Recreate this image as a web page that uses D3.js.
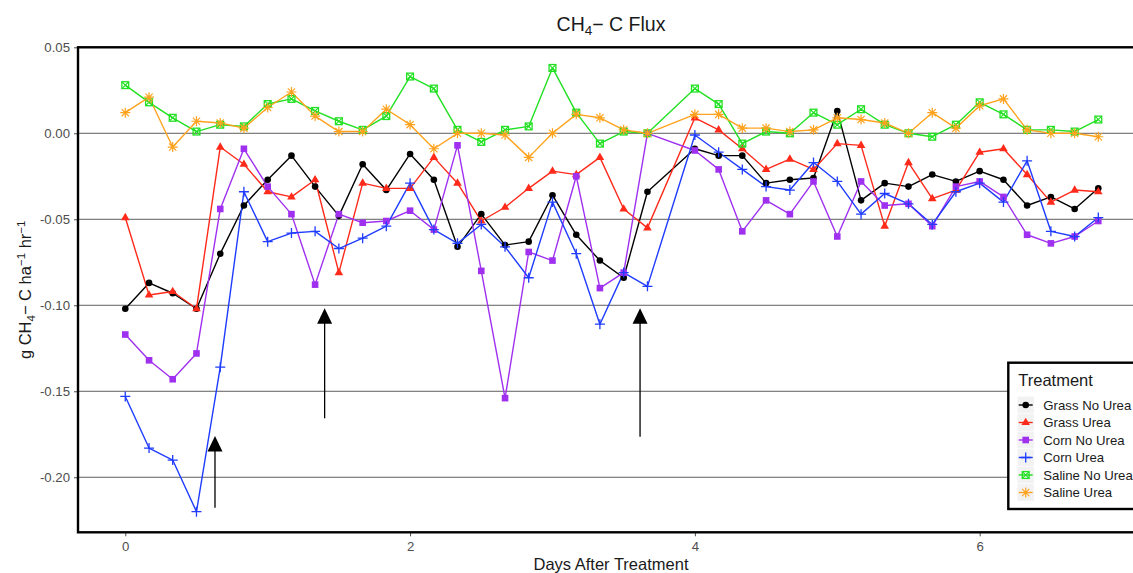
<!DOCTYPE html>
<html>
<head>
<meta charset="utf-8">
<script src="https://cdn.jsdelivr.net/npm/d3@7"></script>
<style>
  html, body { margin: 0; padding: 0; background: #fff; }
  svg { display: block; font-family: "Liberation Sans", Arial, sans-serif; }
</style>
</head>
<body>
<svg id="chart" width="1133" height="573"></svg>
<script>
// Sampling times (days after treatment)
const days = [0, 0.167, 0.333, 0.5, 0.667, 0.833, 1, 1.167, 1.333, 1.5, 1.667, 1.833,
  2, 2.167, 2.333, 2.5, 2.667, 2.833, 3, 3.167, 3.333, 3.5, 3.667,
  4, 4.167, 4.333, 4.5, 4.667, 4.833, 5, 5.167, 5.333, 5.5, 5.667, 5.833,
  6, 6.167, 6.333, 6.5, 6.667, 6.833];

// CH4-C flux, g CH4-C ha-1 hr-1
const grassNoUrea = [-0.102, -0.087, -0.093, -0.102, -0.070, -0.042, -0.027, -0.013, -0.031, -0.048, -0.018, -0.033,
  -0.012, -0.027, -0.066, -0.047, -0.065, -0.063, -0.036, -0.059, -0.074, -0.084, -0.034,
  -0.009, -0.013, -0.013, -0.029, -0.027, -0.026, 0.013, -0.039, -0.029, -0.031, -0.024, -0.028,
  -0.022, -0.027, -0.042, -0.037, -0.044, -0.032];
const grassUrea = [-0.049, -0.094, -0.092, -0.102, -0.008, -0.018, -0.034, -0.037, -0.027, -0.081, -0.029, -0.032,
  -0.032, -0.014, -0.029, -0.051, -0.043, -0.032, -0.022, -0.024, -0.014, -0.044, -0.055,
  0.009, 0.002, -0.009, -0.021, -0.015, -0.021, -0.006, -0.007, -0.054, -0.017, -0.038, -0.033,
  -0.011, -0.009, -0.024, -0.040, -0.033, -0.034];
const cornNoUrea = [-0.117, -0.132, -0.143, -0.128, -0.044, -0.009, -0.031, -0.047, -0.088, -0.047, -0.052, -0.051,
  -0.045, -0.056, -0.007, -0.080, -0.154, -0.069, -0.074, -0.025, -0.090, -0.081, 0.000,
  -0.010, -0.021, -0.057, -0.039, -0.047, -0.028, -0.060, -0.028, -0.042, -0.041, -0.054, -0.031,
  -0.028, -0.037, -0.059, -0.064, -0.060, -0.051];
const cornUrea = [-0.153, -0.183, -0.190, -0.220, -0.136, -0.034, -0.063, -0.058, -0.057, -0.067, -0.061, -0.054,
  -0.029, -0.056, -0.064, -0.053, -0.066, -0.084, -0.040, -0.070, -0.111, -0.081, -0.089,
  -0.001, -0.011, -0.021, -0.031, -0.033, -0.017, -0.028, -0.047, -0.035, -0.041, -0.053, -0.034,
  -0.029, -0.040, -0.016, -0.057, -0.060, -0.049];
const salineNoUrea = [0.028, 0.018, 0.009, 0.001, 0.005, 0.004, 0.017, 0.020, 0.013, 0.007, 0.002, 0.010,
  0.033, 0.026, 0.002, -0.005, 0.002, 0.004, 0.038, 0.012, -0.006, 0.001, 0.000,
  0.026, 0.017, -0.006, 0.001, 0.000, 0.012, 0.005, 0.014, 0.005, 0.000, -0.002, 0.005,
  0.018, 0.011, 0.002, 0.002, 0.001, 0.008];
const salineUrea = [0.012, 0.021, -0.008, 0.007, 0.006, 0.003, 0.015, 0.024, 0.010, 0.001, 0.001, 0.014,
  0.005, -0.009, 0.000, 0.000, -0.001, -0.014, 0.000, 0.011, 0.009, 0.002, 0.000,
  0.011, 0.011, 0.003, 0.003, 0.001, 0.002, 0.009, 0.008, 0.006, 0.000, 0.012, 0.003,
  0.016, 0.020, 0.002, 0.000, 0.000, -0.002];

const treatments = ["Grass No Urea", "Grass Urea", "Corn No Urea", "Corn Urea", "Saline No Urea", "Saline Urea"];
const seriesValues = [grassNoUrea, grassUrea, cornNoUrea, cornUrea, salineNoUrea, salineUrea];
const colors = ["#000000", "#ff2a1a", "#a030f0", "#1f3cff", "#22e022", "#ffa31f"];
const shapes = ["circle", "triangle", "square", "plus", "boxcross", "asterisk"];

const yTicks = [0.05, 0.00, -0.05, -0.10, -0.15, -0.20];
const yTickLabels = ["0.05", "0.00", "-0.05", "-0.10", "-0.15", "-0.20"];
const xTicks = [0, 2, 4, 6];

// Application times marked with arrows (day, tail value, head value)
const arrowDays = [0.63, 1.40, 3.615];
const arrowTails = [-0.2177, -0.1657, -0.1764];
const arrowHeads = [-0.176, -0.1017, -0.1017];

const svg = d3.select("#chart");
const panel = { left: 78, right: 1147, top: 47.3, bottom: 532.3 };

const x = d3.scaleLinear().domain([-0.332, 7.175]).range([panel.left, panel.right]);
const y = d3.scaleLinear().domain([-0.232, 0.05]).range([panel.bottom, panel.top]);

// horizontal grid lines
svg.append("g").selectAll("line").data(yTicks).join("line")
  .attr("x1", panel.left).attr("x2", panel.right)
  .attr("y1", d => y(d)).attr("y2", d => y(d))
  .attr("stroke", "#5e5e5e").attr("stroke-width", 1);

// y axis
const yAxis = d3.axisLeft(y).tickValues(yTicks).tickSize(4).tickPadding(4)
  .tickFormat((d, i) => yTickLabels[i]);
const gy = svg.append("g").attr("transform", `translate(${panel.left},0)`).call(yAxis);
gy.select(".domain").remove();
gy.selectAll(".tick line").attr("stroke", "#4d4d4d").attr("stroke-width", 1);
gy.selectAll(".tick text").attr("fill", "#4d4d4d").style("font-size", "13.2px")
  .style("font-family", "'Liberation Sans', Arial, sans-serif");

// x axis
const xAxis = d3.axisBottom(x).tickValues(xTicks).tickSize(4).tickPadding(5).tickFormat(d3.format("d"));
const gx = svg.append("g").attr("transform", `translate(0,${panel.bottom})`).call(xAxis);
gx.select(".domain").remove();
gx.selectAll(".tick line").attr("stroke", "#4d4d4d").attr("stroke-width", 1);
gx.selectAll(".tick text").attr("fill", "#4d4d4d").style("font-size", "13.2px")
  .style("font-family", "'Liberation Sans', Arial, sans-serif");

// series lines
const line = d3.line().x(d => x(d[0])).y(d => y(d[1]));
const seriesData = seriesValues.map(vals => vals.map((v, i) => [days[i], v]));

const plot = svg.append("g");
plot.selectAll("path.series").data(seriesData).join("path")
  .attr("class", "series")
  .attr("d", line)
  .attr("fill", "none")
  .attr("stroke", (d, i) => colors[i])
  .attr("stroke-width", 1.4)
  .attr("stroke-linejoin", "round");

// point shapes
function drawMarker(g, shape, color) {
  switch (shape) {
    case "circle":
      g.append("circle").attr("r", 3.3).attr("fill", color);
      break;
    case "triangle":
      g.append("path").attr("d", "M0,-4.8L4.3,2.6L-4.3,2.6Z").attr("fill", color);
      break;
    case "square":
      g.append("rect").attr("x", -3.3).attr("y", -3.3).attr("width", 6.6).attr("height", 6.6).attr("fill", color);
      break;
    case "plus":
      g.append("path").attr("d", "M-5,0H5M0,-5V5").attr("stroke", color).attr("stroke-width", 1.3).attr("fill", "none");
      break;
    case "boxcross":
      g.append("rect").attr("x", -3.4).attr("y", -3.4).attr("width", 6.8).attr("height", 6.8)
        .attr("fill", "none").attr("stroke", color).attr("stroke-width", 1.3);
      g.append("path").attr("d", "M-3.4,-3.4L3.4,3.4M-3.4,3.4L3.4,-3.4").attr("stroke", color).attr("stroke-width", 1.1);
      break;
    case "asterisk":
      g.append("path").attr("d", "M-5,0H5M0,-5V5M-3.6,-3.6L3.6,3.6M-3.6,3.6L3.6,-3.6")
        .attr("stroke", color).attr("stroke-width", 1.2).attr("fill", "none");
      break;
  }
}

seriesData.forEach((pts, si) => {
  const g = plot.append("g");
  pts.forEach(p => {
    const m = g.append("g").attr("transform", `translate(${x(p[0])},${y(p[1])})`);
    drawMarker(m, shapes[si], colors[si]);
  });
});

// arrows
arrowDays.forEach((d, i) => {
  const ax = x(d), yt = y(arrowTails[i]), yh = y(arrowHeads[i]);
  svg.append("line").attr("x1", ax).attr("x2", ax).attr("y1", yt).attr("y2", yh + 14)
    .attr("stroke", "#000").attr("stroke-width", 1.3);
  svg.append("path").attr("d", `M${ax},${yh}L${ax + 7.5},${yh + 15.5}L${ax - 7.5},${yh + 15.5}Z`).attr("fill", "#000");
});

// panel border
svg.append("rect").attr("x", panel.left).attr("y", panel.top)
  .attr("width", panel.right - panel.left).attr("height", panel.bottom - panel.top)
  .attr("fill", "none").attr("stroke", "#000").attr("stroke-width", 2.4);

// title
const title = svg.append("text").attr("x", 611).attr("y", 31).attr("text-anchor", "middle")
  .attr("fill", "#1a1a1a").style("font-size", "19.5px");
title.append("tspan").text("CH");
title.append("tspan").attr("dy", 4).style("font-size", "13.5px").text("4");
title.append("tspan").attr("dy", -4).text("\u2212 C Flux");

// x axis title
svg.append("text").attr("x", 611).attr("y", 570).attr("text-anchor", "middle")
  .attr("fill", "#1a1a1a").style("font-size", "16.5px").text("Days After Treatment");

// y axis title
const yt = svg.append("text").attr("transform", `translate(31,${(panel.top + panel.bottom) / 2}) rotate(-90)`)
  .attr("text-anchor", "middle").attr("fill", "#1a1a1a").style("font-size", "16.5px");
yt.append("tspan").text("g CH");
yt.append("tspan").attr("dy", 4).style("font-size", "11.5px").text("4");
yt.append("tspan").attr("dy", -4).text("\u2212 C ha");
yt.append("tspan").attr("dy", -6).style("font-size", "11.5px").text("\u22121");
yt.append("tspan").attr("dy", 6).text(" hr");
yt.append("tspan").attr("dy", -6).style("font-size", "11.5px").text("\u22121");

// legend
const lg = svg.append("g").attr("transform", "translate(1008.3,362.7)");
lg.append("rect").attr("x", 0).attr("y", 0).attr("width", 160).attr("height", 146.3)
  .attr("fill", "#fff").attr("stroke", "#000").attr("stroke-width", 2.4);
lg.append("text").attr("x", 10).attr("y", 23.3).attr("fill", "#1a1a1a").style("font-size", "16.5px").text("Treatment");
treatments.forEach((t, i) => {
  const cy = 42.3 + i * 17.5;
  const item = lg.append("g").attr("transform", `translate(17.4,${cy})`);
  item.append("rect").attr("x", -8.2).attr("y", -8.4).attr("width", 16.4).attr("height", 16.8).attr("fill", "#f2f2f2");
  item.append("line").attr("x1", -7).attr("x2", 7).attr("stroke", colors[i]).attr("stroke-width", 1.4);
  drawMarker(item, shapes[i], colors[i]);
  lg.append("text").attr("x", 35).attr("y", cy + 4.8).attr("fill", "#1a1a1a").style("font-size", "13.2px").text(t);
});
</script>
</body>
</html>
